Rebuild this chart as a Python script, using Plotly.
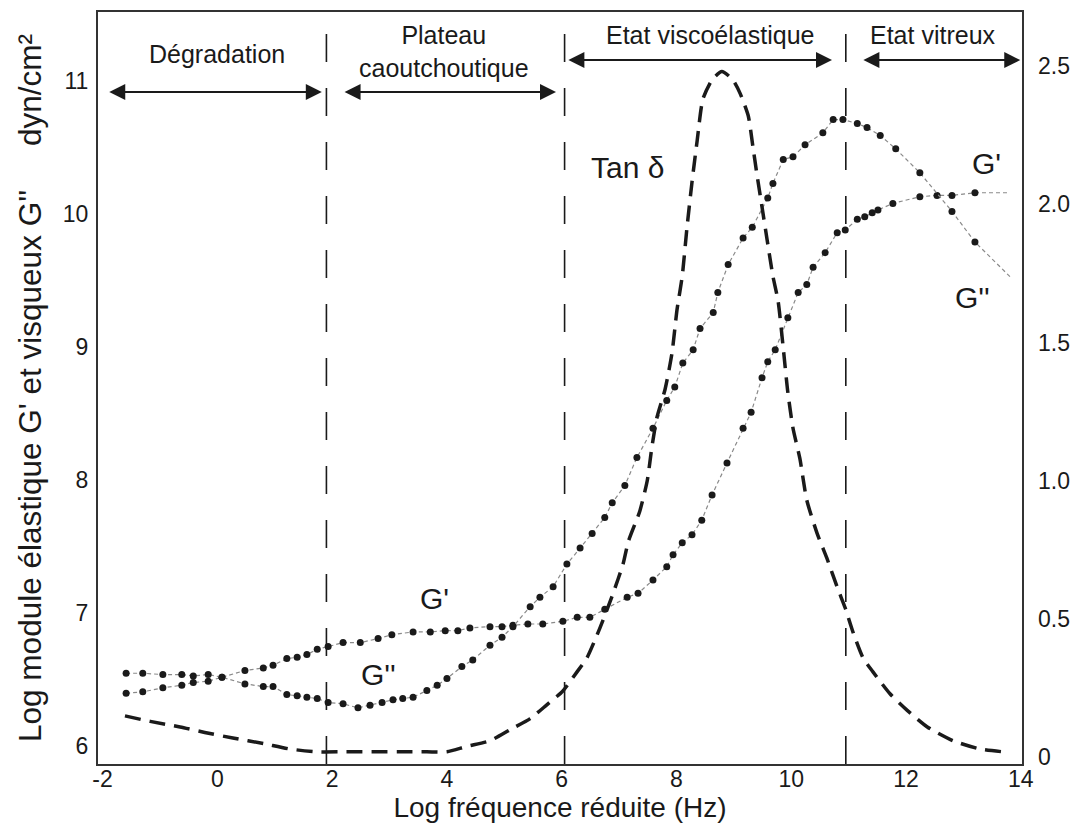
import plotly.graph_objects as go

# ---------------- data ----------------
# G' (storage modulus), log dyn/cm2, left axis
gp_x = [-1.59, -1.30, -0.95, -0.62, -0.42, -0.16, 0.08, 0.48, 0.80, 0.97, 1.21, 1.39, 1.56, 1.74,
        1.93, 2.19, 2.49, 2.80, 3.04, 3.41, 3.71, 3.97, 4.19, 4.40, 4.75, 4.96, 5.15, 5.41, 5.67,
        6.02, 6.27, 6.49, 6.75, 7.14, 7.33, 7.59, 7.83, 7.94, 8.10, 8.27, 8.44, 8.62, 8.88, 9.16,
        9.30, 9.49, 9.59, 9.72, 9.94, 10.12, 10.27, 10.38, 10.59, 10.80, 10.94, 11.15, 11.28,
        11.41, 11.51, 11.77, 12.24, 12.54, 12.80, 13.20, 13.81]
gp_y = [6.40, 6.41, 6.44, 6.46, 6.48, 6.49, 6.52, 6.57, 6.59, 6.61, 6.66, 6.67, 6.69, 6.73,
        6.75, 6.78, 6.78, 6.81, 6.84, 6.86, 6.86, 6.87, 6.87, 6.89, 6.90, 6.90, 6.91, 6.92, 6.92,
        6.94, 6.97, 6.97, 7.03, 7.12, 7.15, 7.25, 7.35, 7.44, 7.53, 7.59, 7.70, 7.89, 8.13, 8.39,
        8.51, 8.77, 8.89, 8.98, 9.22, 9.41, 9.47, 9.60, 9.71, 9.86, 9.88, 9.96, 9.98,
        10.01, 10.03, 10.08, 10.13, 10.14, 10.14, 10.16, 10.16]

# G'' (loss modulus), log dyn/cm2, left axis
gpp_x = [-1.59, -1.30, -0.95, -0.62, -0.42, -0.16, 0.08, 0.48, 0.80, 0.97, 1.21, 1.39, 1.56, 1.74,
         1.93, 2.19, 2.45, 2.66, 2.87, 3.06, 3.23, 3.41, 3.65, 3.83, 4.00, 4.26, 4.45, 4.75, 4.96,
         5.15, 5.45, 5.62, 5.85, 6.09, 6.32, 6.53, 6.75, 6.88, 7.10, 7.31, 7.59, 7.83, 7.97, 8.11,
         8.29, 8.41, 8.64, 8.72, 8.90, 9.16, 9.32, 9.59, 9.68, 9.86, 10.03, 10.24, 10.55, 10.73,
         10.90, 11.15, 11.32, 11.55, 11.82, 12.24, 12.80, 13.20, 13.81]
gpp_y = [6.55, 6.55, 6.54, 6.54, 6.53, 6.54, 6.52, 6.47, 6.45, 6.45, 6.39, 6.38, 6.37, 6.36,
         6.33, 6.32, 6.29, 6.31, 6.33, 6.35, 6.36, 6.37, 6.42, 6.46, 6.51, 6.60, 6.65, 6.76, 6.82,
         6.90, 7.05, 7.12, 7.20, 7.37, 7.49, 7.60, 7.72, 7.83, 7.96, 8.17, 8.39, 8.60, 8.70, 8.88,
         8.98, 9.14, 9.26, 9.41, 9.62, 9.82, 9.90, 10.12, 10.23, 10.41, 10.43, 10.52, 10.61, 10.71,
         10.71, 10.68, 10.65, 10.59, 10.49, 10.31, 10.02, 9.79, 9.53]

# Tan delta, right axis
tan_x = [-1.61, -1.17, -0.65, -0.22, 0.27, 0.80, 1.27, 1.74, 2.19, 2.43, 2.78, 3.18, 3.65, 4.00,
         4.35, 4.75, 5.10, 5.45, 5.74, 6.02, 6.27, 6.44, 6.67, 6.89, 7.07, 7.16, 7.36, 7.49, 7.57,
         7.66, 7.80, 7.92, 8.01, 8.10, 8.18, 8.27, 8.36, 8.46, 8.62, 8.79, 8.98, 9.11, 9.25, 9.33,
         9.40, 9.49, 9.58, 9.68, 9.77, 9.86, 9.94, 10.03, 10.15, 10.27, 10.45, 10.62, 10.81, 10.94,
         11.08, 11.25, 11.42, 11.72, 12.02, 12.37, 12.82, 13.29, 13.69]
tan_y = [0.15, 0.13, 0.11, 0.09, 0.07, 0.05, 0.03, 0.02, 0.02, 0.02, 0.02, 0.02, 0.02, 0.02,
         0.04, 0.06, 0.10, 0.14, 0.19, 0.24, 0.31, 0.36, 0.47, 0.59, 0.70, 0.78, 0.89, 1.00, 1.12,
         1.23, 1.33, 1.46, 1.62, 1.74, 1.91, 2.08, 2.23, 2.38, 2.45, 2.48, 2.45, 2.40, 2.32, 2.21,
         2.11, 1.99, 1.87, 1.74, 1.65, 1.48, 1.32, 1.19, 1.08, 0.93, 0.81, 0.72, 0.61, 0.54,
         0.45, 0.36, 0.31, 0.23, 0.17, 0.11, 0.06, 0.03, 0.02]

# zone boundaries (log frequency) and zone labels
zone_bounds = [1.9, 6.05, 10.95]
zone_labels = ["Dégradation", "Plateau<br>caoutchoutique", "Etat viscoélastique", "Etat vitreux"]

# ticks
x_tickvals = [-2, 0, 2, 4, 6, 8, 10, 12, 14]
x_ticktext = ["-2", "0", "2", "4", "6", "8", "10", "12", "14"]
yl_tickvals = [6, 7, 8, 9, 10, 11]
yr_tickvals = [0, 0.5, 1.0, 1.5, 2.0, 2.5]
yr_ticktext = ["0", "0.5", "1.0", "1.5", "2.0", "2.5"]

FONT = "Liberation Sans, Arial, sans-serif"
INK = "#1a1a1a"
NB = "\u00a0"

fig = go.Figure()

# Tan delta (thick dashed)
fig.add_trace(go.Scatter(x=tan_x, y=tan_y, yaxis="y2", mode="lines",
                         line=dict(color=INK, width=3.5, dash="16px,9px", shape="spline", smoothing=0.6),
                         showlegend=False, hoverinfo="skip"))

# G' and G'' : thin dashed connecting line + black dots
for xs, ys in ((gp_x, gp_y), (gpp_x, gpp_y)):
    fig.add_trace(go.Scatter(x=xs, y=ys, mode="lines",
                             line=dict(color="#8a8a8a", width=1.2, dash="4px,3px"),
                             showlegend=False, hoverinfo="skip"))
    fig.add_trace(go.Scatter(x=xs[:-1], y=ys[:-1], mode="markers",
                             marker=dict(color=INK, size=7),
                             showlegend=False))

# vertical dashed zone boundaries
for xb in zone_bounds:
    fig.add_shape(type="line", xref="x", yref="paper", x0=xb, x1=xb, y0=0.0, y1=0.985,
                  line=dict(color=INK, width=1.6, dash="28px,26px"))

# zone labels
label_pos = [(0.0, 11.20), (3.95, 11.22), (8.58, 11.345), (12.47, 11.345)]
for (lx, ly), txt in zip(label_pos, zone_labels):
    fig.add_annotation(x=lx, y=ly, xref="x", yref="y", text=txt, showarrow=False,
                       font=dict(family=FONT, size=25, color=INK), align="center")

# double-headed arrows for the zones
arrows = [(-1.91, 1.82, 10.917), (2.19, 5.90, 10.917), (6.09, 10.71, 11.157), (11.23, 13.99, 11.157)]
for x0, x1, ya in arrows:
    fig.add_annotation(x=x1, y=ya, ax=x0, ay=ya, xref="x", yref="y", axref="x", ayref="y",
                       text="", showarrow=True, arrowhead=2, startarrowhead=2,
                       arrowside="end+start", arrowsize=1.6, startarrowsize=1.6,
                       arrowwidth=2, arrowcolor=INK, standoff=0, startstandoff=0)

# curve labels
curve_labels = [("Tan δ", 7.14, 10.35), ("G'", 13.41, 10.38), ("G''", 13.15, 9.376),
                ("G'", 3.79, 7.115), ("G''", 2.80, 6.54)]
for txt, lx, ly in curve_labels:
    fig.add_annotation(x=lx, y=ly, xref="x", yref="y", text=txt, showarrow=False,
                       font=dict(family=FONT, size=30, color=INK))

axis_common = dict(showgrid=False, zeroline=False, ticks="", automargin=False,
                   tickfont=dict(family=FONT, size=23, color=INK))

y_title = "Log module élastique G' et visqueux G''" + NB * 5 + "dyn/cm²" + NB * 3

fig.update_layout(
    width=1075, height=828,
    margin=dict(l=90, r=61, t=4, b=72),
    paper_bgcolor="white", plot_bgcolor="white",
    font=dict(family=FONT, color=INK),
    xaxis=dict(range=[-2.08, 14.02], tickvals=x_tickvals, ticktext=x_ticktext,
               showline=True, mirror=True, linecolor="#333", linewidth=2,
               ticklabelstandoff=-7,
               title=dict(text="Log fréquence réduite (Hz)", font=dict(family=FONT, size=28, color=INK),
                          standoff=0),
               **axis_common),
    yaxis=dict(range=[5.868, 11.518], tickvals=yl_tickvals,
               showline=True, mirror=True, linecolor="#333", linewidth=2,
               ticklabelstandoff=3,
               title=dict(text=y_title, font=dict(family=FONT, size=31.5, color=INK), standoff=12),
               **axis_common),
    yaxis2=dict(range=[-0.024, 2.695], tickvals=yr_tickvals, ticktext=yr_ticktext,
                overlaying="y", side="right", showline=False, ticklabelstandoff=15,
                **axis_common),
    showlegend=False,
)

fig.write_html("out.html")
